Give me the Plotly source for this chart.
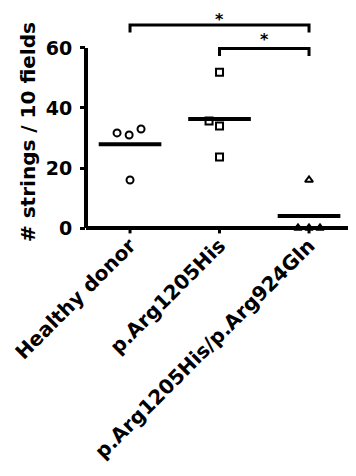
import numpy as np
import plotly.graph_objects as go

# ---- data ----
categories = ["Healthy donor", "p.Arg1205His", "p.Arg1205His/p.Arg924Gln"]
healthy_donor = [31.7, 31.0, 33.0, 16.0]
p_arg1205his = [51.9, 35.7, 34.0, 23.7]
p_arg1205his_arg924gln = [16.0, 0.0, 0.0, 0.0]
y_tick_values = [0, 20, 40, 60]
y_title = "# strings / 10 fields"
comparisons = [(0, 2, "*"), (1, 2, "*")]

# display-only horizontal jitter (category units)
jitter = [
    [-0.145, -0.01, 0.123, 0.0],
    [0.0, -0.117, 0.0, 0.0],
    [0.0, -0.123, 0.0, 0.123],
]
symbols = ["circle-open", "square-open", "triangle-up-open"]

groups = [healthy_donor, p_arg1205his, p_arg1205his_arg924gln]

FONT = "DejaVu Sans"
# the page body adds an 8px offset, so the figure is 8px smaller
W, H = 348, 468
L, R, T = 78, 0, 0
YMIN, YMAX = -0.333, 73.33
plot_h = 221
B = H - T - plot_h
plot_w = W - L - R


def vpaper(v):
    return (v - YMIN) / (YMAX - YMIN)


fig = go.Figure()

for i, vals in enumerate(groups):
    xs = [i + d for d in jitter[i]]
    fig.add_trace(go.Scatter(
        x=xs, y=vals, mode="markers",
        marker=dict(symbol=symbols[i], size=7, color="black",
                    line=dict(color="black", width=2)),
        cliponaxis=False, showlegend=False, hoverinfo="y"))

for i, vals in enumerate(groups):
    m = float(np.mean(vals))
    fig.add_trace(go.Scatter(
        x=[i - 0.35, i + 0.35], y=[m, m], mode="lines",
        line=dict(color="black", width=4), cliponaxis=False,
        showlegend=False, hoverinfo="skip"))

shapes = []
shapes.append(dict(type="line", xref="paper", yref="paper", x0=0, x1=0,
                   y0=vpaper(0), y1=vpaper(max(y_tick_values)),
                   line=dict(color="black", width=4), layer="below"))
shapes.append(dict(type="line", xref="paper", yref="paper", x0=0, x1=1,
                   y0=vpaper(0), y1=vpaper(0), line=dict(color="black", width=4),
                   layer="below"))
for i in range(len(categories)):
    shapes.append(dict(type="line", xref="x", yref="paper", x0=i, x1=i,
                       y0=vpaper(0), y1=vpaper(-1.8), line=dict(color="black", width=3)))

annotations = []
top = max(y_tick_values)
for k, (a, b, label) in enumerate(comparisons):
    ylev = top + 7.7 - k * 7.9
    yend = ylev - 2.5
    shapes.append(dict(type="path", xref="x", yref="y",
                       path=f"M {a},{yend} L {a},{ylev} L {b},{ylev} L {b},{yend}",
                       line=dict(color="black", width=3)))
    annotations.append(dict(x=(a + b) / 2, y=vpaper(ylev + 5.6 + 1.3 * k),
                            xref="x", yref="paper",
                            text=label, showarrow=False, yanchor="top",
                            font=dict(family=FONT, size=16, color="black", weight="bold")))

# y-axis title (page px: centre x=28, y=132; plot left=86, plot bottom=229)
annotations.append(dict(x=(28 - 86) / plot_w, y=(229 - 132) / plot_h,
                        xref="paper", yref="paper", text=y_title, textangle=-90,
                        showarrow=False, xanchor="center", yanchor="middle",
                        font=dict(family=FONT, size=20, color="black", weight="bold")))

fig.update_layout(
    width=W, height=H, margin=dict(l=L, r=R, t=T, b=B, pad=0, autoexpand=False),
    plot_bgcolor="white", paper_bgcolor="white",
    shapes=shapes, annotations=annotations, showlegend=False,
)
fig.update_xaxes(range=[-0.492, 2.525], tickvals=list(range(len(categories))),
                 ticktext=categories, tickangle=-45, ticks="", showgrid=False,
                 zeroline=False, showline=False, automargin=False,
                 tickfont=dict(family=FONT, size=20, color="black", weight="bold"))
fig.update_yaxes(range=[YMIN, YMAX], tickvals=y_tick_values, ticks="outside",
                 ticklen=5, tickwidth=3, tickcolor="black", showgrid=False,
                 zeroline=False, showline=False, automargin=False,
                 ticklabelstandoff=4,
                 tickfont=dict(family=FONT, size=19, color="black", weight="bold"))

fig.write_html("out.html")
